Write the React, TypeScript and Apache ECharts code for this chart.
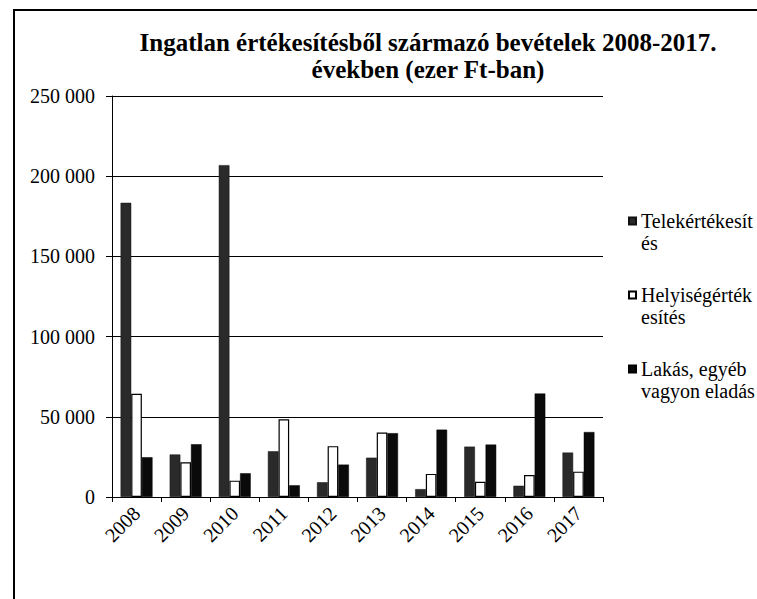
import React, { useEffect, useRef } from "react";
import * as echarts from "echarts";

const years = ["2008", "2009", "2010", "2011", "2012", "2013", "2014", "2015", "2016", "2017"];
const seriesNames = ["Telekértékesítés", "Helyiségértékesítés", "Lakás, egyéb vagyon eladás"];
const legendLabels = ["Telekértékesít\nés", "Helyiségérték\nesítés", "Lakás, egyéb\nvagyon eladás"];
const telek = [183400, 26500, 206900, 28500, 9200, 24500, 4900, 31400, 7000, 27700];
const helyiseg = [64400, 21700, 10200, 48500, 31700, 40200, 14400, 9500, 13700, 15800];
const lakas = [24800, 32900, 14800, 7300, 20200, 39800, 42000, 32700, 64500, 40500];
const yTicks = [0, 50000, 100000, 150000, 200000, 250000];
const titleText = "Ingatlan értékesítésből származó bevételek 2008-2017.\névekben (ezer Ft-ban)";

const FONT = "Liberation Serif";

export default function App() {
  const ref = useRef<HTMLDivElement>(null);
  useEffect(() => {
    if (!ref.current) return;
    const chart = echarts.init(ref.current, null, { renderer: "svg" });
    const fmt = (v: number) => String(v).replace(/\B(?=(\d{3})+(?!\d))/g, " ");
    const styles = [
      { color: "#2a2a2a", borderColor: "#111", borderWidth: 0.5 },
      { color: "#ffffff", borderColor: "#000", borderWidth: 1.2 },
      { color: "#0a0a0a", borderColor: "#000", borderWidth: 0.5 },
    ];
    const dataSets = [telek, helyiseg, lakas];
    chart.setOption({
      animation: false,
      backgroundColor: "#ffffff",
      textStyle: { fontFamily: FONT },
      title: {
        text: titleText,
        left: 428,
        top: 29,
        textAlign: "center",
        padding: 0,
        textStyle: {
          fontFamily: FONT,
          fontWeight: "bold",
          fontSize: 25,
          lineHeight: 27,
          color: "#000",
        },
      },
      graphic: [
        {
          type: "rect",
          shape: { x: 14, y: 10, width: 900, height: 900 },
          style: { fill: "none", stroke: "#000", lineWidth: 2 },
          silent: true,
          z: -10,
        },
      ],
      legend: {
        orient: "vertical",
        left: 628,
        top: 188,
        padding: 0,
        itemWidth: 7,
        itemHeight: 7,
        itemGap: 8,
        icon: "rect",
        data: seriesNames,
        formatter: (name: string) => "\n" + legendLabels[seriesNames.indexOf(name)],
        textStyle: {
          fontFamily: FONT,
          fontSize: 20,
          lineHeight: 22,
          color: "#000",
        },
      },
      grid: { left: 112, right: 154, top: 96, bottom: 102, containLabel: false },
      xAxis: {
        type: "category",
        data: years,
        boundaryGap: true,
        axisLine: { lineStyle: { color: "#000", width: 1 } },
        axisTick: { show: true, length: 5, lineStyle: { color: "#000" } },
        axisLabel: {
          rotate: 45,
          margin: 13,
          fontFamily: FONT,
          fontSize: 20,
          color: "#000",
        },
      },
      yAxis: {
        type: "value",
        min: 0,
        max: 250000,
        interval: 50000,
        axisLine: { show: true, lineStyle: { color: "#000", width: 1 } },
        axisTick: { show: true, length: 6, lineStyle: { color: "#000" } },
        splitLine: { show: true, lineStyle: { color: "#000", width: 1 } },
        axisLabel: {
          margin: 17,
          fontFamily: FONT,
          fontSize: 20,
          color: "#000",
          formatter: (v: number) => (yTicks.includes(v) ? fmt(v) : ""),
        },
      },
      series: seriesNames.map((name, i) => ({
        type: "bar",
        name,
        data: dataSets[i],
        barGap: "0%",
        barCategoryGap: "35%",
        itemStyle: styles[i],
      })),
    });
    return () => chart.dispose();
  }, []);
  return (
    <div
      ref={ref}
      style={{ position: "fixed", left: 0, top: 0, width: 757, height: 599 }}
    />
  );
}
